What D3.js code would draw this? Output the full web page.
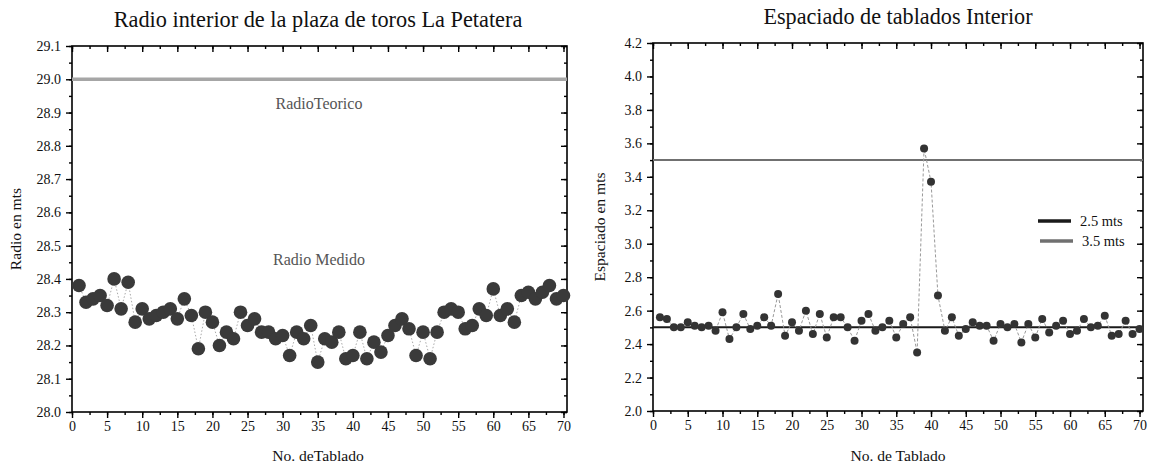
<!DOCTYPE html>
<html>
<head>
<meta charset="utf-8">
<script src="https://cdn.jsdelivr.net/npm/d3@7"></script>
<style>
  body { margin: 0; background: #fff; }
  svg text { font-family: "Liberation Serif", "DejaVu Serif", serif; }
</style>
</head>
<body>
<div id="chart"></div>
<script>
// Tablado numbers 1..70
var tablados = d3.range(1, 71);

// Radio medido (mts), left chart
var radioMedido = [
  28.38, 28.33, 28.34, 28.35, 28.32, 28.40, 28.31, 28.39, 28.27, 28.31,
  28.28, 28.29, 28.30, 28.31, 28.28, 28.34, 28.29, 28.19, 28.30, 28.27,
  28.20, 28.24, 28.22, 28.30, 28.26, 28.28, 28.24, 28.24, 28.22, 28.23,
  28.17, 28.24, 28.22, 28.26, 28.15, 28.22, 28.21, 28.24, 28.16, 28.17,
  28.24, 28.16, 28.21, 28.18, 28.23, 28.26, 28.28, 28.25, 28.17, 28.24,
  28.16, 28.24, 28.30, 28.31, 28.30, 28.25, 28.26, 28.31, 28.29, 28.37,
  28.29, 28.31, 28.27, 28.35, 28.36, 28.34, 28.36, 28.38, 28.34, 28.35
];
var radioTeorico = 29.0;

// Espaciado (mts), right chart
var espaciado = [
  2.56, 2.55, 2.50, 2.50, 2.53, 2.51, 2.50, 2.51, 2.48, 2.59,
  2.43, 2.50, 2.58, 2.49, 2.51, 2.56, 2.51, 2.70, 2.45, 2.53,
  2.48, 2.60, 2.46, 2.58, 2.44, 2.56, 2.56, 2.50, 2.42, 2.54,
  2.58, 2.48, 2.50, 2.54, 2.44, 2.52, 2.56, 2.35, 3.57, 3.37,
  2.69, 2.48, 2.56, 2.45, 2.49, 2.53, 2.51, 2.51, 2.42, 2.52,
  2.50, 2.52, 2.41, 2.52, 2.44, 2.55, 2.47, 2.51, 2.54, 2.46,
  2.48, 2.55, 2.50, 2.51, 2.57, 2.45, 2.46, 2.54, 2.46, 2.49
];
var refLines = [2.5, 3.5];
var refLabels = ["2.5 mts", "3.5 mts"];

var xTicks = d3.range(0, 71, 5);
var xMinor = d3.range(0, 71, 2.5);
var yTicksLeft = d3.range(0, 12).map(i => +(28.0 + i * 0.1).toFixed(1));
var yMinorLeft = d3.range(0, 23).map(i => 28.0 + i * 0.05);
var yTicksRight = d3.range(0, 12).map(i => +(2.0 + i * 0.2).toFixed(1));
var yMinorRight = d3.range(0, 23).map(i => 2.0 + i * 0.1);

var svg = d3.select("#chart").append("svg")
    .attr("width", 1153)
    .attr("height", 472);

// draws the boxed frame with ticks, returns scales
function drawFrame(left, top, width, height, yDomain, yTicks, yMinor, yFmt) {
  var g = svg.append("g").attr("transform", `translate(${left},${top})`);
  var x = d3.scaleLinear().domain([0, 70.5]).range([0, width]);
  var y = d3.scaleLinear().domain(yDomain).range([height, 0]);

  // bottom axis, outward ticks
  g.append("g").attr("transform", `translate(0,${height})`)
    .call(d3.axisBottom(x).tickValues(xMinor).tickSize(3).tickFormat(""));
  g.append("g").attr("transform", `translate(0,${height})`)
    .call(d3.axisBottom(x).tickValues(xTicks).tickSize(6).tickPadding(3).tickFormat(d3.format("d")));
  // top axis, inward ticks
  g.append("g").call(d3.axisBottom(x).tickValues(xMinor).tickSize(3).tickFormat(""));
  g.append("g").call(d3.axisBottom(x).tickValues(xTicks).tickSize(6).tickFormat(""));
  // left axis, outward
  g.append("g").call(d3.axisLeft(y).tickValues(yMinor).tickSize(3).tickFormat(""));
  g.append("g").call(d3.axisLeft(y).tickValues(yTicks).tickSize(6).tickPadding(5).tickFormat(yFmt));
  // right axis, inward
  g.append("g").attr("transform", `translate(${width},0)`)
    .call(d3.axisLeft(y).tickValues(yMinor).tickSize(3).tickFormat(""));
  g.append("g").attr("transform", `translate(${width},0)`)
    .call(d3.axisLeft(y).tickValues(yTicks).tickSize(6).tickFormat(""));

  g.selectAll(".domain").remove();
  g.selectAll(".tick line").attr("stroke", "#000").attr("stroke-width", 1.4);
  g.selectAll(".tick text").attr("font-size", 14).attr("fill", "#111")
    .style("font-family", "Liberation Serif, serif");

  g.append("rect")
    .attr("width", width).attr("height", height)
    .attr("fill", "none").attr("stroke", "#000").attr("stroke-width", 1.6);

  return { g: g, x: x, y: y };
}

// ---------- Left chart ----------
var L = drawFrame(72, 46, 495, 366, [28.0, 29.1], yTicksLeft, yMinorLeft, d3.format(".1f"));

L.g.append("line")
  .attr("x1", 0).attr("x2", 495)
  .attr("y1", L.y(radioTeorico)).attr("y2", L.y(radioTeorico))
  .attr("stroke", "#a6a6a6").attr("stroke-width", 3.5);

L.g.append("path")
  .datum(radioMedido)
  .attr("fill", "none")
  .attr("stroke", "#aaa")
  .attr("stroke-width", 1)
  .attr("stroke-dasharray", "1.5,2")
  .attr("d", d3.line().x((d, i) => L.x(tablados[i])).y(d => L.y(d)));

L.g.selectAll("circle")
  .data(radioMedido)
  .enter().append("circle")
  .attr("cx", (d, i) => L.x(tablados[i]))
  .attr("cy", d => L.y(d))
  .attr("r", 6.8)
  .attr("fill", "#3a3a3a");

L.g.append("text").attr("x", 247).attr("y", 63)
  .attr("text-anchor", "middle").attr("font-size", 16).attr("fill", "#555")
  .text("RadioTeorico");
L.g.append("text").attr("x", 247).attr("y", 219)
  .attr("text-anchor", "middle").attr("font-size", 16).attr("fill", "#555")
  .text("Radio Medido");

svg.append("text").attr("x", 318).attr("y", 27)
  .attr("text-anchor", "middle").attr("font-size", 22.3).attr("fill", "#111")
  .text("Radio interior de la plaza de toros La Petatera");
svg.append("text").attr("x", 318).attr("y", 461)
  .attr("text-anchor", "middle").attr("font-size", 15.6).attr("fill", "#111")
  .text("No. deTablado");
svg.append("text")
  .attr("transform", "translate(21,229) rotate(-90)")
  .attr("text-anchor", "middle").attr("font-size", 15.6).attr("fill", "#111")
  .text("Radio en mts");

// ---------- Right chart ----------
var R = drawFrame(653, 43, 490, 368, [2.0, 4.2], yTicksRight, yMinorRight, d3.format(".1f"));
var refColors = ["#1a1a1a", "#707070"];

R.g.selectAll(".ref")
  .data(refLines)
  .enter().append("line")
  .attr("class", "ref")
  .attr("x1", 0).attr("x2", 490)
  .attr("y1", d => R.y(d)).attr("y2", d => R.y(d))
  .attr("stroke", (d, i) => refColors[i])
  .attr("stroke-width", 2);

R.g.append("path")
  .datum(espaciado)
  .attr("fill", "none")
  .attr("stroke", "#999")
  .attr("stroke-width", 1)
  .attr("stroke-dasharray", "3,2")
  .attr("d", d3.line().x((d, i) => R.x(tablados[i])).y(d => R.y(d)));

R.g.selectAll("circle")
  .data(espaciado)
  .enter().append("circle")
  .attr("cx", (d, i) => R.x(tablados[i]))
  .attr("cy", d => R.y(d))
  .attr("r", 4)
  .attr("fill", "#333");

// legend
var leg = R.g.selectAll(".leg")
  .data(refLabels)
  .enter().append("g")
  .attr("class", "leg")
  .attr("transform", (d, i) => `translate(${385 + i * 2},${178 + i * 20})`);
leg.append("line")
  .attr("x1", 0).attr("x2", 33)
  .attr("stroke", (d, i) => refColors[i])
  .attr("stroke-width", 3.5);
leg.append("text")
  .attr("x", 42).attr("y", 4.5)
  .attr("font-size", 14.5).attr("fill", "#111")
  .text(d => d);

svg.append("text").attr("x", 898).attr("y", 24)
  .attr("text-anchor", "middle").attr("font-size", 22.2).attr("fill", "#111")
  .text("Espaciado de tablados Interior");
svg.append("text").attr("x", 898).attr("y", 461)
  .attr("text-anchor", "middle").attr("font-size", 15.6).attr("fill", "#111")
  .text("No. de Tablado");
svg.append("text")
  .attr("transform", "translate(605,227) rotate(-90)")
  .attr("text-anchor", "middle").attr("font-size", 15.6).attr("fill", "#111")
  .text("Espaciado en mts");
</script>
</body>
</html>
